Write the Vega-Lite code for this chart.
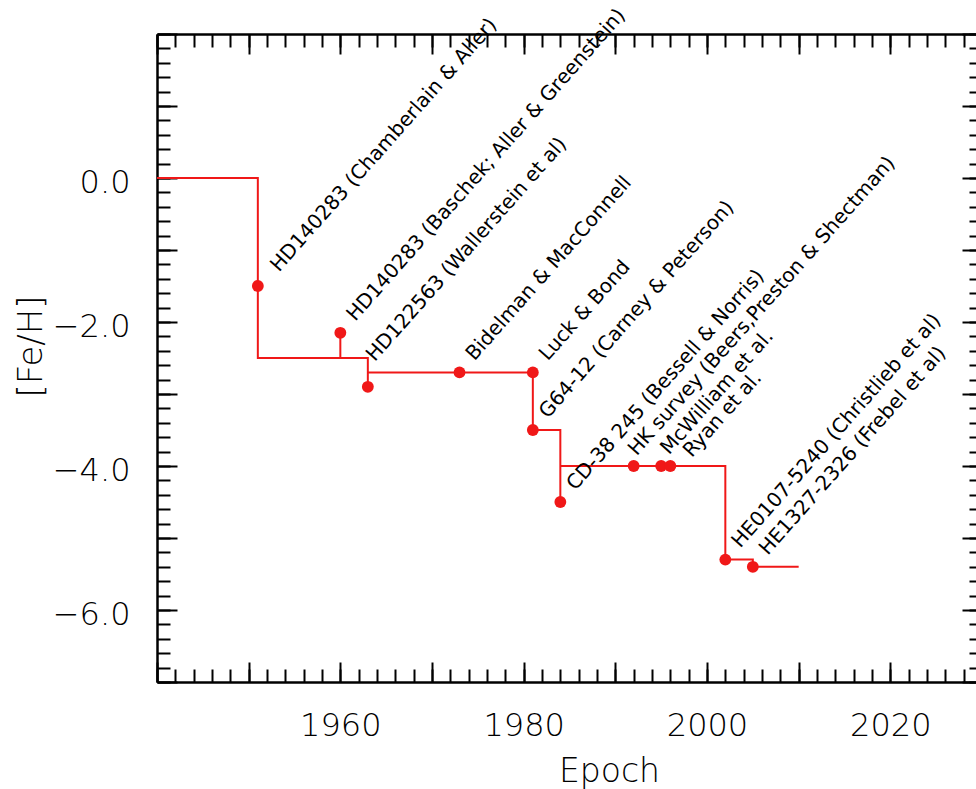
{
  "$schema": "https://vega.github.io/schema/vega-lite/v6.json",
  "width": 819,
  "height": 648,
  "autosize": {"type": "none"},
  "padding": {"left": 157, "top": 34, "right": 0, "bottom": 107},
  "background": "white",
  "config": {"view": {"stroke": null}},
  "datasets": {
    "path": [
      {"order": 1, "year": 1940, "feh": 0},
      {"order": 2, "year": 1951, "feh": 0},
      {"order": 3, "year": 1951, "feh": -2.5},
      {"order": 4, "year": 1960, "feh": -2.5},
      {"order": 5, "year": 1960, "feh": -2.15},
      {"order": 6, "year": 1960, "feh": -2.5},
      {"order": 7, "year": 1963, "feh": -2.5},
      {"order": 8, "year": 1963, "feh": -2.9},
      {"order": 9, "year": 1963, "feh": -2.7},
      {"order": 10, "year": 1981, "feh": -2.7},
      {"order": 11, "year": 1981, "feh": -3.5},
      {"order": 12, "year": 1984, "feh": -3.5},
      {"order": 13, "year": 1984, "feh": -4.5},
      {"order": 14, "year": 1984, "feh": -4.0},
      {"order": 15, "year": 2002, "feh": -4.0},
      {"order": 16, "year": 2002, "feh": -5.3},
      {"order": 17, "year": 2005, "feh": -5.3},
      {"order": 18, "year": 2005, "feh": -5.4},
      {"order": 19, "year": 2010, "feh": -5.4}
    ],
    "stars": [
      {"year": 1951, "feh": -1.5, "label": "HD140283 (Chamberlain & Aller)"},
      {"year": 1960, "feh": -2.15, "label": "HD140283 (Baschek; Aller & Greenstein)"},
      {"year": 1963, "feh": -2.9, "label": "HD122563 (Wallerstein et al)"},
      {"year": 1973, "feh": -2.7, "label": "Bidelman & MacConnell"},
      {"year": 1981, "feh": -2.7, "label": "Luck & Bond"},
      {"year": 1981, "feh": -3.5, "label": "G64-12 (Carney & Peterson)"},
      {"year": 1984, "feh": -4.5, "label": "CD-38 245 (Bessell & Norris)"},
      {"year": 1992, "feh": -4.0, "label": "HK survey (Beers,Preston & Shectman)"},
      {"year": 1995, "feh": -4.0, "label": "McWilliam et al."},
      {"year": 1996, "feh": -4.0, "label": "Ryan et al."},
      {"year": 2002, "feh": -5.3, "label": "HE0107-5240 (Christlieb et al)"},
      {"year": 2005, "feh": -5.4, "label": "HE1327-2326 (Frebel et al)"}
    ]
  },
  "layer": [
    {
      "data": {"name": "path"},
      "mark": {"type": "line", "color": "#f01818", "strokeWidth": 2, "interpolate": "linear"},
      "encoding": {
        "x": {"field": "year", "type": "quantitative",
          "scale": {"domain": [1940, 2030], "range": [0, 825], "nice": false, "zero": false},
          "axis": {"orient": "bottom", "values": [1940,1950,1960,1970,1980,1990,2000,2010,2020,2030],
            "grid": false, "tickSize": -20, "tickWidth": 2, "tickColor": "black",
            "domain": true, "domainColor": "black", "domainWidth": 2.5,
            "labelExpr": "datum.value % 20 === 0 && datum.value > 1940 && datum.value < 2030 ? '' + datum.value : ''",
            "labelFont": "DejaVu Sans", "labelFontWeight": 200, "labelFontSize": 32, "labelColor": "black", "labelPadding": 48,
            "labelFlush": false, "labelOverlap": false,
            "title": "Epoch", "titleFont": "DejaVu Sans", "titleFontSize": 33, "titleFontWeight": 200,
            "titleColor": "black", "titleX": 452, "titleY": 99, "titleAlign": "center", "titleBaseline": "alphabetic"}},
        "y": {"field": "feh", "type": "quantitative",
          "scale": {"domain": [-7, 2], "nice": false, "zero": false},
          "axis": {"orient": "left", "values": [-7,-6,-5,-4,-3,-2,-1,0,1,2],
            "grid": false, "tickSize": -20, "tickWidth": 2, "tickColor": "black",
            "domain": true, "domainColor": "black", "domainWidth": 2.5,
            "labelExpr": "datum.value % 2 === 0 && datum.value < 2 ? format(datum.value, '.1f') : ''",
            "labelFont": "DejaVu Sans", "labelFontWeight": 200, "labelFontSize": 32, "labelColor": "black", "labelPadding": 47,
            "labelOffset": 4, "labelFlush": false, "labelOverlap": false,
            "title": "[Fe/H]", "titleFont": "DejaVu Sans", "titleFontSize": 34, "titleFontWeight": 200,
            "titleColor": "black", "titleAngle": -90, "titleX": -116, "titleY": 312, "titleAlign": "center", "titleBaseline": "alphabetic"}},
        "order": {"field": "order", "type": "quantitative"}
      }
    },
    {
      "data": {"name": "stars"},
      "mark": {"type": "circle", "color": "#f01818", "size": 140, "opacity": 1},
      "encoding": {
        "x": {"field": "year", "type": "quantitative",
          "axis": {"orient": "bottom", "values": [1940,1942,1944,1946,1948,1950,1952,1954,1956,1958,1960,1962,1964,1966,1968,1970,1972,1974,1976,1978,1980,1982,1984,1986,1988,1990,1992,1994,1996,1998,2000,2002,2004,2006,2008,2010,2012,2014,2016,2018,2020,2022,2024,2026,2028,2030],
            "grid": false, "tickSize": -13, "tickWidth": 2, "tickColor": "black", "domain": false, "labels": false, "title": null}},
        "y": {"field": "feh", "type": "quantitative",
          "axis": {"orient": "left", "values": [-7,-6.8,-6.6,-6.4,-6.2,-6,-5.8,-5.6,-5.4,-5.2,-5,-4.8,-4.6,-4.4,-4.2,-4,-3.8,-3.6,-3.4,-3.2,-3,-2.8,-2.6,-2.4,-2.2,-2,-1.8,-1.6,-1.4,-1.2,-1,-0.8,-0.6,-0.4,-0.2,0,0.2,0.4,0.6,0.8,1,1.2,1.4,1.6,1.8,2],
            "grid": false, "tickSize": -13, "tickWidth": 2, "tickColor": "black", "domain": false, "labels": false, "title": null}}
      }
    },
    {
      "data": {"name": "stars"},
      "transform": [{"filter": {"field": "label", "oneOf": ["HD140283 (Baschek; Aller & Greenstein)", "Bidelman & MacConnell", "Luck & Bond", "G64-12 (Carney & Peterson)", "CD-38 245 (Bessell & Norris)", "HE0107-5240 (Christlieb et al)", "HE1327-2326 (Frebel et al)"]}}],
      "mark": {"type": "text", "angle": -48.5, "align": "left", "baseline": "alphabetic", "dx": 18, "dy": 4, "font": "DejaVu Sans", "fontSize": 20, "color": "black"},
      "encoding": {
        "x": {"field": "year", "type": "quantitative",
          "axis": {"orient": "top", "values": [1940,1950,1960,1970,1980,1990,2000,2010,2020,2030],
            "grid": false, "tickSize": -20, "tickWidth": 2, "tickColor": "black", "domain": true, "domainColor": "black", "domainWidth": 2.5, "labels": false, "title": null}},
        "y": {"field": "feh", "type": "quantitative",
          "axis": {"orient": "right", "offset": 6, "values": [-7,-6,-5,-4,-3,-2,-1,0,1,2],
            "grid": false, "tickSize": -20, "tickWidth": 2, "tickColor": "black", "domain": true, "domainColor": "black", "domainWidth": 2.5, "labels": false, "title": null}},
        "text": {"field": "label"}
      }
    },
    {
      "data": {"name": "stars"},
      "transform": [{"filter": {"field": "label", "equal": "HD140283 (Chamberlain & Aller)"}}],
      "mark": {"type": "text", "angle": -48.5, "align": "left", "baseline": "alphabetic", "dx": 24, "dy": 7, "font": "DejaVu Sans", "fontSize": 20, "color": "black"},
      "encoding": {
        "x": {"field": "year", "type": "quantitative",
          "axis": {"orient": "top", "values": [1940,1942,1944,1946,1948,1950,1952,1954,1956,1958,1960,1962,1964,1966,1968,1970,1972,1974,1976,1978,1980,1982,1984,1986,1988,1990,1992,1994,1996,1998,2000,2002,2004,2006,2008,2010,2012,2014,2016,2018,2020,2022,2024,2026,2028,2030],
            "grid": false, "tickSize": -13, "tickWidth": 2, "tickColor": "black", "domain": false, "labels": false, "title": null}},
        "y": {"field": "feh", "type": "quantitative",
          "axis": {"orient": "right", "offset": 6, "values": [-7,-6.8,-6.6,-6.4,-6.2,-6,-5.8,-5.6,-5.4,-5.2,-5,-4.8,-4.6,-4.4,-4.2,-4,-3.8,-3.6,-3.4,-3.2,-3,-2.8,-2.6,-2.4,-2.2,-2,-1.8,-1.6,-1.4,-1.2,-1,-0.8,-0.6,-0.4,-0.2,0,0.2,0.4,0.6,0.8,1,1.2,1.4,1.6,1.8,2],
            "grid": false, "tickSize": -13, "tickWidth": 2, "tickColor": "black", "domain": false, "labels": false, "title": null}},
        "text": {"field": "label"}
      }
    },
    {
      "data": {"name": "stars"},
      "transform": [{"filter": {"field": "label", "equal": "HD122563 (Wallerstein et al)"}}],
      "mark": {"type": "text", "angle": -48.5, "align": "left", "baseline": "alphabetic", "dx": 23, "dy": -11, "font": "DejaVu Sans", "fontSize": 20, "color": "black"},
      "encoding": {
        "x": {"field": "year", "type": "quantitative", "axis": null},
        "y": {"field": "feh", "type": "quantitative", "axis": null},
        "text": {"field": "label"}
      }
    },
    {
      "data": {"name": "stars"},
      "transform": [{"filter": {"field": "label", "equal": "HK survey (Beers,Preston & Shectman)"}}],
      "mark": {"type": "text", "angle": -48.5, "align": "left", "baseline": "alphabetic", "dx": 9, "dy": -4, "font": "DejaVu Sans", "fontSize": 20, "color": "black"},
      "encoding": {
        "x": {"field": "year", "type": "quantitative", "axis": null},
        "y": {"field": "feh", "type": "quantitative", "axis": null},
        "text": {"field": "label"}
      }
    },
    {
      "data": {"name": "stars"},
      "transform": [{"filter": {"field": "label", "equal": "McWilliam et al."}}],
      "mark": {"type": "text", "angle": -48.5, "align": "left", "baseline": "alphabetic", "dx": 13, "dy": -1, "font": "DejaVu Sans", "fontSize": 20, "color": "black"},
      "encoding": {
        "x": {"field": "year", "type": "quantitative", "axis": null},
        "y": {"field": "feh", "type": "quantitative", "axis": null},
        "text": {"field": "label"}
      }
    },
    {
      "data": {"name": "stars"},
      "transform": [{"filter": {"field": "label", "equal": "Ryan et al."}}],
      "mark": {"type": "text", "angle": -48.5, "align": "left", "baseline": "alphabetic", "dx": 20, "dy": 11, "font": "DejaVu Sans", "fontSize": 20, "color": "black"},
      "encoding": {
        "x": {"field": "year", "type": "quantitative", "axis": null},
        "y": {"field": "feh", "type": "quantitative", "axis": null},
        "text": {"field": "label"}
      }
    }
  ],
  "resolve": {"axis": {"x": "independent", "y": "independent"}}
}
